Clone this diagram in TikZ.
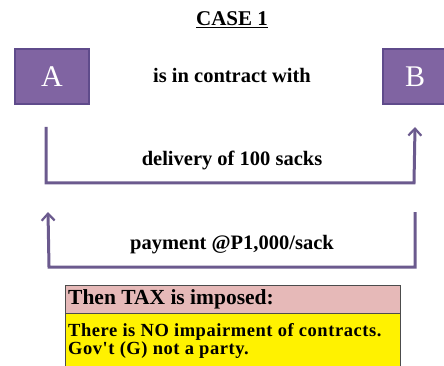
\documentclass[tikz,border=0pt]{standalone}
\usepackage{fontspec}
\setmainfont{Liberation Serif}
\newfontfamily\bodyfont{Liberation Serif}[LetterSpace=3]
\usetikzlibrary{arrows.meta}
\definecolor{boxpurple}{HTML}{8064A2}
\definecolor{boxedge}{HTML}{5F4B8B}
\definecolor{linepurple}{HTML}{6B5A8E}
\definecolor{pinkhead}{HTML}{E6B9B8}
\tikzset{
  party/.style={draw=boxedge, line width=1.5pt, fill=boxpurple, text=white, font=\fontsize{30}{32}\selectfont, inner sep=0pt},
  lbl/.style={font=\bfseries\fontsize{20.5}{22}\selectfont, inner sep=0pt},
  flow/.style={draw=linepurple, line width=3pt, -{Straight Barb[length=7pt, width=13pt, line width=2.2pt]}},
  bodytxt/.style={anchor=west, font=\bodyfont\bfseries\fontsize{18.5}{20}\selectfont, inner sep=0pt},
}
\begin{document}
\begin{tikzpicture}[x=1pt, y=-1pt]
\useasboundingbox (0,0) rectangle (444,366);
\node[font=\bfseries\fontsize{21}{23}\selectfont, inner sep=0pt] (title) at (232,20) {\underline{CASE 1}};
\node[party, minimum width=74pt, minimum height=55pt] (A) at (52,76.5) {A};
\node[party, minimum width=64pt, minimum height=55pt] (B) at (415,76.5) {B};
\node[lbl] (contract) at (232,75) {is in contract with};
\coordinate (d1) at (46,127);
\coordinate (d2) at (415,127);
\draw[flow] (d1) |- (414,183) -- (d2);
\node[lbl] (deliv) at (232,160) {delivery of 100 sacks};
\coordinate (p1) at (415,212);
\coordinate (p2) at (48,212);
\draw[flow] (p1) |- (49,267) -- (p2);
\node[lbl] (pay) at (232,245) {payment @P1,000/sack};
\node[draw=black!70, fill=pinkhead, minimum width=335pt, minimum height=28pt, anchor=north west, inner sep=0pt] (head) at (64.5,285) {};
\node[anchor=west, font=\bfseries\fontsize{21.5}{23}\selectfont, inner sep=0pt] (headtxt) at (68,299) {Then TAX is imposed:};
\node[draw=black!70, fill=yellow, minimum width=335pt, minimum height=60pt, anchor=north west, inner sep=0pt] (body) at (64.5,313) {};
\node[bodytxt] (l1) at (68,332) {There is NO impairment of contracts.};
\node[bodytxt] (l2) at (68,350) {Gov't (G) not a party.};
\end{tikzpicture}
\end{document}
